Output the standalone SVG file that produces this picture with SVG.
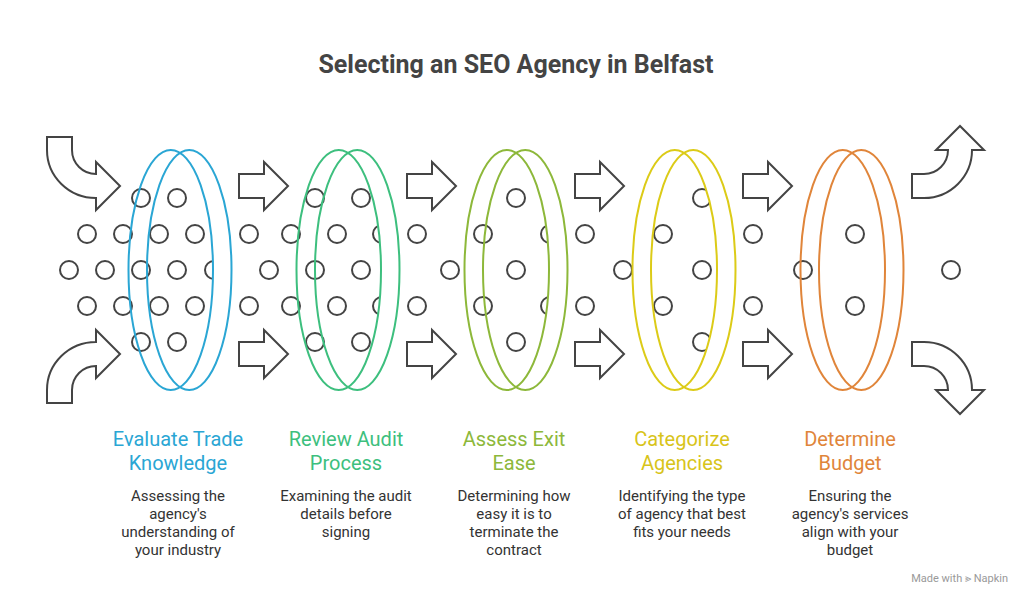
<svg xmlns="http://www.w3.org/2000/svg" width="1032" height="606" viewBox="0 0 1032 606">
<style>
.d{fill:none;stroke:#444;stroke-width:2}
.a{fill:#fff;stroke:#444;stroke-width:2;stroke-linejoin:miter}
.e{fill:none;stroke-width:2}
.t{font-family:Roboto,"Liberation Sans",sans-serif;text-anchor:middle}
.l{font-size:20px}
.s{font-size:15px;fill:#333}
</style>
<defs>
<g id="ring">
<path d="M0,-117.1 A42.25,120 0 1 1 0,117.1 A42.25,120 0 0 0 0,-117.1 Z" fill="#fff" stroke="none"/>
<ellipse cx="-9.25" cy="0" rx="42.25" ry="120" class="e"/>
<ellipse cx="9.25" cy="0" rx="42.25" ry="120" class="e"/>
</g>
<path id="sa" d="M0,-12 L25,-12 L25,-24 L49,0 L25,24 L25,12 L0,12 Z"/>
</defs>
<rect width="1032" height="606" fill="#fff"/>
<text x="516" y="73" class="t" font-size="25" font-weight="bold" fill="#444">Selecting an SEO Agency in Belfast</text>
<g id="dots" class="d">
<circle cx="141" cy="198" r="9"/><circle cx="177" cy="198" r="9"/><circle cx="315" cy="198" r="9"/><circle cx="361" cy="198" r="9"/><circle cx="516" cy="198" r="9"/><circle cx="702" cy="198" r="9"/>
<circle cx="141" cy="342" r="9"/><circle cx="177" cy="342" r="9"/><circle cx="315" cy="342" r="9"/><circle cx="361" cy="342" r="9"/><circle cx="516" cy="342" r="9"/><circle cx="702" cy="342" r="9"/>
<circle cx="87" cy="234" r="9"/><circle cx="123" cy="234" r="9"/><circle cx="159" cy="234" r="9"/><circle cx="195" cy="234" r="9"/><circle cx="249" cy="234" r="9"/><circle cx="291" cy="234" r="9"/><circle cx="337" cy="234" r="9"/><circle cx="382" cy="234" r="9"/><circle cx="417" cy="234" r="9"/><circle cx="483" cy="234" r="9"/><circle cx="550" cy="234" r="9"/><circle cx="585" cy="234" r="9"/><circle cx="663" cy="234" r="9"/><circle cx="753" cy="234" r="9"/><circle cx="855" cy="234" r="9"/>
<circle cx="87" cy="306" r="9"/><circle cx="123" cy="306" r="9"/><circle cx="159" cy="306" r="9"/><circle cx="195" cy="306" r="9"/><circle cx="249" cy="306" r="9"/><circle cx="291" cy="306" r="9"/><circle cx="337" cy="306" r="9"/><circle cx="382" cy="306" r="9"/><circle cx="417" cy="306" r="9"/><circle cx="483" cy="306" r="9"/><circle cx="550" cy="306" r="9"/><circle cx="585" cy="306" r="9"/><circle cx="663" cy="306" r="9"/><circle cx="753" cy="306" r="9"/><circle cx="855" cy="306" r="9"/>
<circle cx="69" cy="270" r="9"/><circle cx="105" cy="270" r="9"/><circle cx="141" cy="270" r="9"/><circle cx="177" cy="270" r="9"/><circle cx="214" cy="270" r="9"/><circle cx="269" cy="270" r="9"/><circle cx="315" cy="270" r="9"/><circle cx="361" cy="270" r="9"/><circle cx="450" cy="270" r="9"/><circle cx="516" cy="270" r="9"/><circle cx="623" cy="270" r="9"/><circle cx="702" cy="270" r="9"/><circle cx="803" cy="270" r="9"/><circle cx="951" cy="270" r="9"/>
</g>
<g id="n1"><use href="#ring" transform="translate(180,270)" stroke="#2aa6d4"/>
<text class="t l" x="178" y="446" fill="#2aa6d4">Evaluate Trade</text><text class="t l" x="178" y="470" fill="#2aa6d4">Knowledge</text>
<text class="t s" x="178" y="501">Assessing the</text><text class="t s" x="178" y="519">agency's</text><text class="t s" x="178" y="537">understanding of</text><text class="t s" x="178" y="555">your industry</text></g>
<g id="n2"><use href="#ring" transform="translate(348,270)" stroke="#3dbf7e"/>
<text class="t l" x="346" y="446" fill="#3dbf7e">Review Audit</text><text class="t l" x="346" y="470" fill="#3dbf7e">Process</text>
<text class="t s" x="346" y="501">Examining the audit</text><text class="t s" x="346" y="519">details before</text><text class="t s" x="346" y="537">signing</text></g>
<g id="n3"><use href="#ring" transform="translate(516,270)" stroke="#8db83a"/>
<text class="t l" x="514" y="446" fill="#8db83a">Assess Exit</text><text class="t l" x="514" y="470" fill="#8db83a">Ease</text>
<text class="t s" x="514" y="501">Determining how</text><text class="t s" x="514" y="519">easy it is to</text><text class="t s" x="514" y="537">terminate the</text><text class="t s" x="514" y="555">contract</text></g>
<g id="n4"><use href="#ring" transform="translate(684,270)" stroke="#dccb17"/>
<text class="t l" x="682" y="446" fill="#d8c41a">Categorize</text><text class="t l" x="682" y="470" fill="#d8c41a">Agencies</text>
<text class="t s" x="682" y="501">Identifying the type</text><text class="t s" x="682" y="519">of agency that best</text><text class="t s" x="682" y="537">fits your needs</text></g>
<g id="n5"><use href="#ring" transform="translate(852,270)" stroke="#e0853a"/>
<text class="t l" x="850" y="446" fill="#e0853a">Determine</text><text class="t l" x="850" y="470" fill="#e0853a">Budget</text>
<text class="t s" x="850" y="501">Ensuring the</text><text class="t s" x="850" y="519">agency's services</text><text class="t s" x="850" y="537">align with your</text><text class="t s" x="850" y="555">budget</text></g>
<g id="connectors" class="a">
<path d="M47,137 L72,137 L72,150 A24,24 0 0 0 96,174 L96,162 L120,186 L96,210 L96,198 A49,48 0 0 1 47,150 Z"/>
<path d="M47,403 L72,403 L72,390 A24,24 0 0 1 96,366 L96,378 L120,354 L96,330 L96,342 A49,48 0 0 0 47,390 Z"/>
<use href="#sa" x="239" y="186"/><use href="#sa" x="239" y="354"/>
<use href="#sa" x="407" y="186"/><use href="#sa" x="407" y="354"/>
<use href="#sa" x="575" y="186"/><use href="#sa" x="575" y="354"/>
<use href="#sa" x="743" y="186"/><use href="#sa" x="743" y="354"/>
<path d="M912,174 L924,174 A24,24 0 0 0 948,150 L936,150 L960,126 L984,150 L972,150 A48,48 0 0 1 924,198 L912,198 Z"/>
<path d="M912,366 L924,366 A24,24 0 0 1 948,390 L936,390 L960,414 L984,390 L972,390 A48,48 0 0 0 924,342 L912,342 Z"/>
</g>
<text x="1008" y="582" font-family="Roboto,'Liberation Sans',sans-serif" font-size="11" fill="#999" text-anchor="end">Made with ⪢ Napkin</text>
</svg>
